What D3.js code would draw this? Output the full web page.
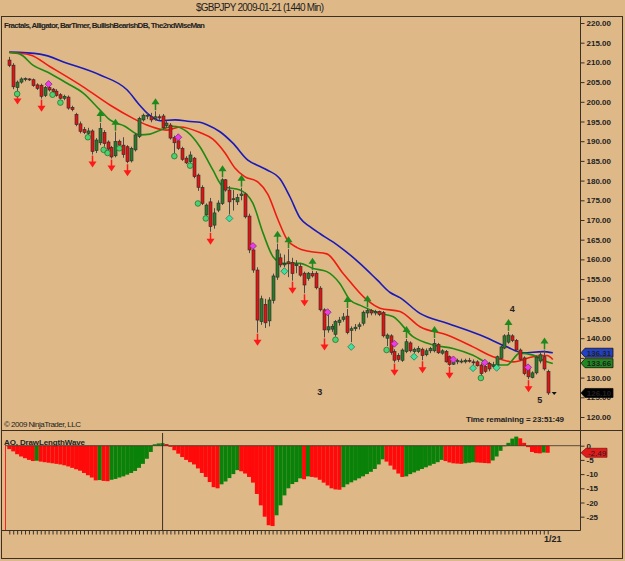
<!DOCTYPE html>
<html>
<head>
<meta charset="UTF-8">
<script src="https://d3js.org/d3.v7.min.js"></script>
<style>
  body { margin: 0; background: #DEB887; }
  svg text { font-family: "Liberation Sans", Arial, sans-serif; fill: #222; }
  .axis text { font-size: 8px; font-weight: bold; }
  .axis line { stroke: #3a3026; }
  .axis path { display: none; }
</style>
</head>
<body>
<svg id="chart" width="625" height="561"></svg>
<script>
// daily bars, GBPJPY
var opens = [210.6,209.3,203.6,205.0,205.7,205.8,205.6,204.3,204.2,201.6,
  203.6,203.2,202.7,201.8,200.9,201.2,198.6,196.8,194.4,193.0,
  192.0,192.6,187.6,189.6,192.2,189.8,188.4,186.3,190.0,189.0,
  188.6,185.0,187.8,191.2,195.4,196.4,196.2,195.8,196.2,196.4,
  194.0,194.1,190.9,190.1,188.2,185.7,184.8,185.7,181.4,178.3,
  171.3,174.6,168.7,172.5,174.2,180.2,177.6,175.2,174.6,176.2,
  176.6,171.0,162.4,157.3,144.2,148.6,144.4,149.6,155.5,160.4,
  158.6,159.4,159.2,158.4,158.2,156.5,155.2,156.4,156.5,152.7,
  147.2,142.1,142.3,141.0,144.0,144.8,145.6,142.0,142.4,143.0,
  143.8,146.4,147.0,146.4,146.8,146.5,140.0,140.6,136.6,135.6,
  134.4,136.6,138.8,136.6,136.6,137.2,135.8,136.8,136.8,138.4,
  136.2,136.6,135.3,133.4,134.0,134.2,134.0,134.4,134.0,134.0,
  133.2,132.8,133.6,132.8,133.2,134.9,137.5,139.0,140.6,139.4,
  137.0,135.0,132.8,130.0,131.2,134.2,135.3,131.5];
var highs = [211.4,209.8,205.4,206.2,206.2,206.0,205.9,204.7,204.6,204.0,
  204.0,203.5,203.2,202.2,201.8,201.6,199.0,197.2,195.0,193.6,
  193.4,193.0,190.8,194.6,192.8,190.2,188.8,192.4,190.4,191.0,
  189.0,188.6,192.0,196.2,197.0,197.2,197.2,197.6,196.8,196.9,
  195.2,194.6,191.4,190.6,188.6,186.2,187.4,186.0,181.8,178.8,
  174.2,175.6,173.0,175.0,180.6,180.4,178.6,177.6,176.6,178.2,
  177.0,171.6,163.0,158.0,150.8,150.0,150.4,156.4,164.0,161.5,
  161.2,162.6,160.4,159.8,159.0,156.9,156.8,157.1,157.0,153.2,
  147.6,146.0,143.6,144.6,145.4,146.4,147.4,143.0,143.6,144.0,
  147.0,147.6,147.4,147.2,147.0,146.9,141.2,141.0,137.2,136.2,
  137.4,139.8,139.2,137.6,138.0,137.6,137.4,137.8,139.8,138.8,
  137.2,137.0,135.6,134.0,134.8,134.8,134.8,135.0,134.6,134.4,
  133.6,133.2,134.0,134.0,135.6,138.2,141.0,141.6,141.0,139.8,
  137.4,135.4,133.2,131.6,135.6,136.6,136.9,132.0];
var lows = [208.8,203.2,202.6,204.6,205.2,205.3,203.8,203.0,200.8,201.2,
  202.6,202.4,201.3,200.6,200.4,198.0,197.6,193.8,192.0,191.8,
  191.6,186.6,187.0,189.0,188.6,187.6,185.6,185.9,188.6,185.8,
  184.4,184.6,187.4,190.8,195.0,195.6,194.8,195.2,195.4,193.0,
  193.4,190.4,187.0,187.8,185.0,184.2,184.4,180.6,177.4,173.8,
  170.9,167.0,167.8,172.0,173.8,177.2,171.4,172.4,173.8,175.0,
  170.4,161.6,156.6,141.4,143.4,142.6,143.0,148.8,154.8,158.0,
  158.0,155.5,154.6,156.5,155.6,151.4,154.6,155.4,152.4,146.8,
  140.2,141.4,141.6,140.4,143.2,144.2,141.0,139.0,141.8,142.2,
  143.2,145.2,145.8,145.8,145.6,140.2,138.0,135.8,133.8,134.0,
  134.0,136.2,136.4,136.2,136.2,134.4,135.4,136.2,136.4,136.0,
  135.8,133.8,133.0,133.2,133.4,133.6,133.6,133.8,133.2,132.8,
  130.6,131.2,131.6,132.4,133.0,134.6,137.2,138.6,139.0,136.6,
  134.2,130.6,129.6,129.8,130.8,133.6,131.8,125.6];
var closes = [209.2,203.8,205.0,205.8,205.9,205.6,204.1,203.4,201.4,203.6,
  203.0,202.6,201.6,200.9,201.4,198.4,198.0,194.2,192.5,192.2,
  192.6,187.4,190.3,193.2,189.4,188.0,186.0,189.9,189.0,186.6,
  184.8,188.2,191.6,195.8,196.6,196.6,195.4,196.2,195.9,193.4,
  194.6,190.8,189.6,188.2,185.4,184.5,186.5,181.0,178.3,174.2,
  173.8,168.3,171.8,174.3,180.2,177.6,174.6,175.4,175.7,176.6,
  170.8,162.4,157.3,144.6,150.0,143.9,149.7,155.8,162.4,158.6,
  159.0,159.0,156.4,158.8,156.0,153.5,156.5,155.8,152.8,147.2,
  142.1,142.9,143.0,144.2,144.6,145.4,141.4,142.4,142.8,143.4,
  146.6,147.0,146.4,146.8,146.0,140.6,140.8,136.4,134.4,134.6,
  137.0,139.1,136.8,137.2,137.4,135.6,136.8,137.4,138.7,136.3,
  136.8,134.0,133.3,133.8,134.3,134.2,134.4,134.2,133.8,133.0,
  131.0,131.6,132.2,133.2,135.3,137.8,140.6,140.8,139.4,137.0,
  134.6,131.0,130.2,131.2,135.2,135.8,132.2,126.1];

// Awesome Oscillator
var aoValues = [-1.2,-2.0,-3.0,-3.8,-4.4,-5.0,-5.4,-5.3,-5.6,-5.8,
  -6.0,-6.2,-6.4,-6.6,-6.9,-7.3,-7.8,-8.3,-8.8,-9.6,
  -10.4,-11.2,-12.2,-12.1,-12.4,-12.5,-12.0,-11.7,-11.2,-10.8,
  -10.2,-9.6,-8.9,-7.8,-6.4,-4.6,-2.2,0.5,0.8,0.9,
  0.6,-0.4,-1.6,-2.8,-4.0,-5.0,-5.8,-6.6,-8.0,-9.6,
  -11.0,-12.8,-14.6,-15.0,-13.6,-12.6,-11.4,-10.0,-8.6,-9.0,
  -9.8,-11.0,-13.0,-17.0,-21.0,-25.0,-28.0,-28.3,-24.5,-21.0,
  -17.5,-15.0,-13.5,-12.8,-11.5,-11.8,-10.8,-11.0,-11.2,-12.0,
  -13.0,-14.0,-15.0,-15.4,-15.5,-14.6,-13.6,-12.9,-12.2,-11.5,
  -10.8,-10.0,-9.2,-8.2,-6.6,-4.8,-5.6,-7.0,-8.4,-9.8,
  -11.0,-10.8,-10.0,-9.4,-8.8,-8.2,-7.6,-7.0,-6.4,-5.8,
  -5.0,-5.4,-5.9,-6.2,-6.3,-6.4,-6.2,-6.0,-5.8,-5.9,
  -6.0,-6.1,-6.2,-5.2,-3.8,-1.8,-0.2,1.0,2.5,3.2,
  2.6,1.0,-0.5,-2.2,-2.6,-2.7,-2.4,-2.49];

// alligator lines: bar position, price
var jawIdx = [0,7.8,14.7,23.1,30,33.3,35,38.4,42.2,46,48.5,50.3,53.6,56.9,60.7,63.8,65.6,68.9,71.4,74,76.5,79.1,81.6,84.1,89.2,93.6,96.9,99.4,104.5,111.4,119.8,126.6,130.7,135.8,138.3];
var jawVal = [212.6,212.1,209.8,206.8,203.0,199.0,197.2,195.2,195.4,195.0,194.8,194.2,192.4,189.5,185.2,183.6,182.7,180.4,175.9,170.5,168.3,166.5,164.9,163.2,159.0,154.8,151.6,150.3,146.3,143.8,140.8,137.8,136.3,136.6,136.3];
var teethIdx = [0,5.3,10.4,18.8,25.6,31.5,35,40.1,43.4,48.5,51.8,54.9,57.4,59.9,63.3,65.8,68.4,70.7,73.2,76.5,80.8,84.9,91,94.3,99.4,104.5,111.4,118,123.1,128.2,133.3,136.8,138.3];
var teethVal = [212.5,211.9,208.9,203.8,199.2,195.8,194.1,192.8,193.6,192.2,190.5,187.0,183.2,181.0,179.6,176.5,170.0,165.0,163.0,162.0,161.4,156.5,149.7,147.6,146.8,142.9,140.8,137.8,135.3,134.0,135.3,135.6,134.6];
var lipsIdx = [0,2.7,6,10.4,14.7,18.8,23.1,25.6,29.4,33.3,35.8,38.4,41.7,45.2,48.5,51.8,54.4,58.7,62,64.6,67.1,69.7,74,77.3,80.8,84.1,86.7,89.2,94.3,97.6,102.7,107.8,112.9,118,123.1,126.6,129.9,133.3,136.8,138.3];
var lipsVal = [212.5,212.1,209.3,207.2,204.7,202.2,197.9,195.4,193.8,191.6,191.8,192.8,193.8,192.4,188.6,182.7,178.5,177.6,174.2,166.6,160.7,159.0,159.0,157.7,156.9,153.9,149.7,148.4,146.3,145.5,140.4,138.3,137.4,135.7,133.2,133.2,136.2,135.7,134.0,133.6];

// markers
var upArrowIdx = [23,27,37,54,59,68,71,77,86,91,101,108,127,136];
var downArrowIdx = [2,8,21,26,30,51,63,72,75,80,98,105,112,132];
var pinkIdx = [10,43,62,81,98,113,121,132];
var pinkPrice = [204.5,191.0,163.4,146.6,138.6,134.6,133.8,132.6];
var circleIdx = [2,11,13,20,24,25,28,42,46,48,50,83,96,120];
var circlePrice = [202.0,201.8,199.8,191.0,187.8,187.0,188.2,186.2,183.8,174.2,170.4,139.6,137.0,129.9];
var tealIdx = [56,70,87,103,118,124];
var tealPrice = [170.4,157.0,137.8,135.3,132.4,132.5];
var waveLabels = ['3','4','5'];
var waveIdx = [79,128,135];
var wavePrice = [126.3,147.4,124.3];
var priceTicks = d3.range(120, 221, 5);
var aoTicks = [0,-5,-10,-15,-20,-25];
var boxValues = [136.31, 133.66, 126.10];
var cursorIdx = 39;

var N = closes.length;
var svg = d3.select('#chart');

svg.append('rect').attr('width',625).attr('height',561).attr('fill','#DEB887');

var x = d3.scaleLinear().domain([0, N - 1]).range([9.3, 547.7]);
var py = d3.scaleLinear().domain([220, 120]).range([23, 417]);
var ay = d3.scaleLinear().domain([0, -25]).range([445.7, 516.7]);

// frame
var frame = svg.append('g').attr('stroke','#3a3026').attr('fill','none');
frame.append('rect').attr('x',1.5).attr('y',16.5).attr('width',621).attr('height',542);
frame.append('line').attr('x1',1.5).attr('x2',622.5).attr('y1',430.5).attr('y2',430.5);
frame.append('line').attr('x1',580.5).attr('x2',580.5).attr('y1',16.5).attr('y2',530.5);
frame.append('line').attr('x1',1.5).attr('x2',580.5).attr('y1',530.5).attr('y2',530.5);

// title and texts
svg.append('text').attr('x',196).attr('y',11).attr('font-size',10).attr('textLength',128)
  .attr('fill','#333').text('$GBPJPY  2009-01-21 (1440 Min)');
svg.append('text').attr('x',4).attr('y',28).attr('font-size',8).attr('font-weight','bold')
  .attr('textLength',201).text('Fractals, Alligator, BarTimer, BullishBearishDB, The2ndWiseMan');
svg.append('text').attr('x',4).attr('y',427).attr('font-size',8).attr('textLength',77)
  .text('\u00a9 2009 NinjaTrader, LLC');
svg.append('text').attr('x',466).attr('y',422).attr('font-size',8).attr('font-weight','bold')
  .attr('textLength',98).text('Time remaining = 23:51:49');
svg.append('text').attr('x',4).attr('y',445).attr('font-size',8).attr('font-weight','bold')
  .attr('textLength',81).text('AO, DrawLengthWave');

// right price axis (labels hidden behind the last-value boxes are left out)
svg.append('g').attr('class','axis').attr('transform','translate(580.5,0)')
  .call(d3.axisRight(py).tickValues(priceTicks).tickSize(4).tickPadding(2)
    .tickFormat(function(d){ return d === 135 ? '' : d3.format('.2f')(d); }));

// alligator
var line = d3.line().x(function(d){ return x(d[0]); }).y(function(d){ return py(d[1]); }).curve(d3.curveMonotoneX);
function pairs(a, b){ return a.map(function(v, i){ return [v, b[i]]; }); }
svg.append('path').attr('d', line(pairs(jawIdx, jawVal))).attr('fill','none').attr('stroke','#1a1ab8').attr('stroke-width',1.6);
svg.append('path').attr('d', line(pairs(teethIdx, teethVal))).attr('fill','none').attr('stroke','#ee1c10').attr('stroke-width',1.6);
svg.append('path').attr('d', line(pairs(lipsIdx, lipsVal))).attr('fill','none').attr('stroke','#1f8a12').attr('stroke-width',1.6);

// candles
var bars = d3.range(N);
var cg = svg.append('g');
cg.selectAll('line.wick').data(bars).join('line')
  .attr('x1', function(i){ return Math.round(x(i)) + 0.5; })
  .attr('x2', function(i){ return Math.round(x(i)) + 0.5; })
  .attr('y1', function(i){ return py(highs[i]); })
  .attr('y2', function(i){ return py(lows[i]); })
  .attr('stroke','#4a4a4a').attr('stroke-width',1);
cg.selectAll('rect.body').data(bars).join('rect')
  .attr('x', function(i){ return Math.round(x(i)) - 1; })
  .attr('width', 3)
  .attr('y', function(i){ return py(Math.max(opens[i], closes[i])); })
  .attr('height', function(i){ return Math.max(1, Math.abs(py(opens[i]) - py(closes[i]))); })
  .attr('fill', function(i){ return closes[i] >= opens[i] ? '#2b7a2b' : '#e01414'; })
  .attr('stroke','#2a2a2a').attr('stroke-width',0.6);

// fractal arrows
var mg = svg.append('g');
upArrowIdx.forEach(function(i){
  var cx = Math.round(x(i)) + 0.5, yb = py(highs[i]) - 1;
  mg.append('line').attr('x1',cx).attr('x2',cx).attr('y1',yb).attr('y2',yb - 7).attr('stroke','#1e8a1e').attr('stroke-width',1.5);
  mg.append('path').attr('d','M'+(cx-4)+','+(yb-6)+'L'+cx+','+(yb-12)+'L'+(cx+4)+','+(yb-6)+'Z').attr('fill','#1e8a1e');
});
downArrowIdx.forEach(function(i){
  var cx = Math.round(x(i)) + 0.5, yt = py(lows[i]) + 1;
  mg.append('line').attr('x1',cx).attr('x2',cx).attr('y1',yt).attr('y2',yt + 7).attr('stroke','#ff1a1a').attr('stroke-width',1.5);
  mg.append('path').attr('d','M'+(cx-4)+','+(yt+6)+'L'+cx+','+(yt+12)+'L'+(cx+4)+','+(yt+6)+'Z').attr('fill','#ff1a1a');
});
function diamond(cx, cy, r, fill, stroke){
  mg.append('path').attr('d','M'+cx+','+(cy-r)+'L'+(cx+r)+','+cy+'L'+cx+','+(cy+r)+'L'+(cx-r)+','+cy+'Z')
    .attr('fill',fill).attr('stroke',stroke).attr('stroke-width',0.7);
}
pinkIdx.forEach(function(i, k){ diamond(x(i), py(pinkPrice[k]), 3.5, '#e83ee8', '#7a1f7a'); });
tealIdx.forEach(function(i, k){ diamond(x(i), py(tealPrice[k]), 3.5, '#3fe0a0', '#1a7050'); });
circleIdx.forEach(function(i, k){
  mg.append('circle').attr('cx', x(i)).attr('cy', py(circlePrice[k])).attr('r', 2.8)
    .attr('fill','#4fd070').attr('stroke','#1a6a2a').attr('stroke-width',0.7);
});
waveLabels.forEach(function(t, k){
  svg.append('text').attr('x', x(waveIdx[k])).attr('y', py(wavePrice[k]) + 3).attr('text-anchor','middle')
    .attr('font-size',9).attr('font-weight','bold').text(t);
});
// bar timer pointer
svg.append('path').attr('d','M'+(x(N-1)+4)+','+(py(closes[N-1])-1)+'l5,0l-2.5,3z').attr('fill','#111');

// last value boxes
var boxFill = ['#2040c8', '#1f8a1f', '#000'];
boxValues.forEach(function(v, k){
  var y = py(v);
  svg.append('path').attr('d','M581,'+y+'L585,'+(y-4.5)+'L613,'+(y-4.5)+'L613,'+(y+4.5)+'L585,'+(y+4.5)+'Z')
    .attr('fill', boxFill[k]).attr('stroke','#111').attr('stroke-width',0.8);
  svg.append('text').attr('x',599).attr('y',y+3).attr('text-anchor','middle').attr('font-size',8)
    .attr('font-weight','bold').attr('fill','#fff').text(v.toFixed(2));
});

// AO panel
var ag = svg.append('g');
ag.selectAll('rect').data(bars).join('rect')
  .attr('x', function(i){ return x(i) - 2; })
  .attr('width', 4)
  .attr('y', function(i){ return Math.min(ay(aoValues[i]), ay(0)); })
  .attr('height', function(i){ return Math.abs(ay(aoValues[i]) - ay(0)); })
  .attr('fill', function(i){ return i > 0 && aoValues[i] >= aoValues[i-1] ? '#0a820a' : '#ff0a0a'; });
svg.append('line').attr('x1',5).attr('x2',580).attr('y1',ay(0)).attr('y2',ay(0)).attr('stroke','#3a3026').attr('stroke-width',0.8);
svg.append('line').attr('x1',5.5).attr('x2',5.5).attr('y1',ay(0)).attr('y2',530).attr('stroke','#ff2020');
svg.append('line').attr('x1',x(cursorIdx)).attr('x2',x(cursorIdx)).attr('y1',433).attr('y2',530).attr('stroke','#3a3026');

svg.append('g').attr('class','axis').attr('transform','translate(580.5,0)')
  .call(d3.axisRight(ay).tickValues(aoTicks).tickFormat(function(d){ return String(d); }).tickSize(4).tickPadding(2));

var ya = ay(aoValues[N-1]);
svg.append('path').attr('d','M581,'+ya+'L586,'+(ya-4.5)+'L607,'+(ya-4.5)+'L607,'+(ya+4.5)+'L586,'+(ya+4.5)+'Z')
  .attr('fill','#e41a1a').attr('stroke','#7a1010').attr('stroke-width',0.7);
svg.append('text').attr('x',597).attr('y',ya+3).attr('text-anchor','middle').attr('font-size',8)
  .attr('fill','#4a0000').text(aoValues[N-1].toFixed(2));

// bottom time axis
svg.append('g').attr('class','axis').attr('transform','translate(0,530.5)')
  .call(d3.axisBottom(x).tickValues(bars).tickFormat('').tickSize(4).tickSizeOuter(0));
svg.append('text').attr('x', x(N-1) + 5).attr('y',542).attr('text-anchor','middle').attr('font-size',9)
  .attr('font-weight','bold').text('1/21');
</script>
</body>
</html>
